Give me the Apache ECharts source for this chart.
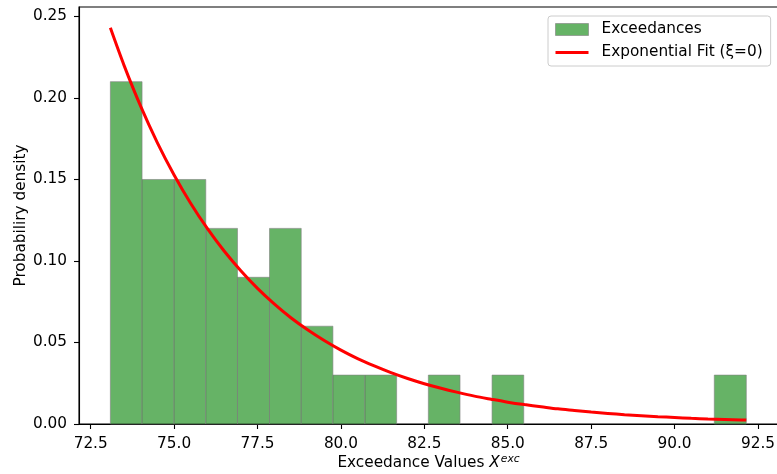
<!DOCTYPE html>
<html>
<head>
<meta charset="utf-8">
<script src="https://cdn.jsdelivr.net/npm/echarts@6/dist/echarts.min.js"></script>
<style>
  html, body { margin: 0; padding: 0; background: #ffffff; }
  #chart { width: 777px; height: 474px; }
</style>
</head>
<body>
<div id="chart"></div>
<script>
// Histogram of exceedances over the threshold (20 equal-width bins), density-normalised
const binEdges = [73.09, 74.04, 75.00, 75.95, 76.90, 77.86, 78.81, 79.76, 80.72, 81.67, 82.62,
                  83.57, 84.53, 85.48, 86.43, 87.38, 88.34, 89.29, 90.24, 91.19, 92.15];
const densities = [0.21, 0.15, 0.15, 0.12, 0.09, 0.12, 0.06, 0.03, 0.03, 0.00,
                   0.03, 0.00, 0.03, 0.00, 0.00, 0.00, 0.00, 0.00, 0.00, 0.03];

// Fitted exponential density (GPD with shape 0), sampled along the data range
const fitX = [73.09, 73.5, 74.0, 74.5, 75.0, 75.5, 76.0, 76.5, 77.0, 77.5, 78.0, 78.5, 79.0, 79.5,
              80.0, 80.5, 81.0, 81.5, 82.0, 82.5, 83.0, 83.5, 84.0, 84.5, 85.0, 85.5, 86.0, 86.5,
              87.0, 87.5, 88.0, 88.5, 89.0, 89.5, 90.0, 90.5, 91.0, 91.5, 92.0, 92.15];
const fitY = [0.2430, 0.2200, 0.1948, 0.1725, 0.1528, 0.1353, 0.1198, 0.1061, 0.0940, 0.0832, 0.0737, 0.0652, 0.0578, 0.0512,
              0.0453, 0.0401, 0.0356, 0.0315, 0.0279, 0.0247, 0.0219, 0.0194, 0.0171, 0.0152, 0.0134, 0.0119, 0.0106, 0.0093,
              0.0083, 0.0073, 0.0065, 0.0057, 0.0051, 0.0045, 0.0040, 0.0035, 0.0031, 0.0028, 0.0025, 0.0024];

const xTicks = [72.5, 75.0, 77.5, 80.0, 82.5, 85.0, 87.5, 90.0, 92.5];
const yTicks = [0.00, 0.05, 0.10, 0.15, 0.20, 0.25];

const FONT = 'DejaVu Sans';
const FS = 15.3;
const barFill = 'rgba(0,128,0,0.6)';
const barEdge = 'rgba(128,128,128,0.6)';

const histData = densities.map((d, i) => [binEdges[i], binEdges[i + 1], d]);
const fitData = fitX.map((x, i) => [x, fitY[i]]);

const chart = echarts.init(document.getElementById('chart'), null, { renderer: 'canvas' });

chart.setOption({
  animation: false,
  backgroundColor: '#ffffff',
  grid: {
    left: 79, right: -1, top: 7, bottom: 50,
    outerBoundsMode: 'none',
    containLabel: false,
    show: true, borderColor: '#000000', borderWidth: 1.1, backgroundColor: 'transparent'
  },
  xAxis: {
    type: 'value',
    min: 72.15, max: 93.1,
    name: '{n|Exceedance Values }{x|X}{s|exc}',
    nameLocation: 'middle',
    nameMoveOverlap: false,
    nameGap: 30,
    nameTextStyle: {
      fontFamily: FONT, fontSize: FS, color: '#000',
      rich: {
        n: { fontFamily: FONT, fontSize: FS, color: '#000', lineHeight: 19 },
        x: { fontFamily: FONT, fontSize: FS, fontStyle: 'italic', color: '#000', lineHeight: 19 },
        s: { fontFamily: FONT, fontSize: 10.7, fontStyle: 'italic', color: '#000', verticalAlign: 'top', lineHeight: 19, padding: [0, 0, 6, 1] }
      }
    },
    axisLine: { show: true, lineStyle: { color: '#000', width: 1.1 } },
    axisTick: { show: true, length: 5, customValues: xTicks, lineStyle: { color: '#000', width: 1.1 } },
    axisLabel: {
      customValues: xTicks,
      formatter: v => v.toFixed(1),
      fontFamily: FONT, fontSize: FS, color: '#000', margin: 13
    },
    splitLine: { show: false }
  },
  yAxis: {
    type: 'value',
    min: 0, max: 0.2558,
    name: 'Probabiliry density',
    nameLocation: 'middle',
    nameMoveOverlap: false,
    nameRotate: 90,
    nameGap: 50,
    nameTextStyle: { fontFamily: FONT, fontSize: FS, color: '#000' },
    axisLine: { show: true, lineStyle: { color: '#000', width: 1.1 } },
    axisTick: { show: true, length: 5, customValues: yTicks, lineStyle: { color: '#000', width: 1.1 } },
    axisLabel: {
      customValues: yTicks,
      formatter: v => v.toFixed(2),
      fontFamily: FONT, fontSize: FS, color: '#000', margin: 12
    },
    splitLine: { show: false }
  },
  legend: {
    orient: 'vertical',
    left: 548, top: 16,
    itemWidth: 33, itemHeight: 12, itemGap: 6,
    padding: [5, 8, 5, 6],
    backgroundColor: 'rgba(255,255,255,0.8)',
    borderColor: '#cccccc', borderWidth: 1, borderRadius: 3,
    textStyle: { fontFamily: FONT, fontSize: FS, color: '#000', lineHeight: 17, padding: [0, 0, 0, 8] },
    data: [
      { name: 'Exceedances', icon: 'rect', itemStyle: { color: barFill, borderColor: barEdge, borderWidth: 1 } },
      { name: 'Exponential Fit (ξ=0)', itemStyle: { opacity: 0 }, lineStyle: { color: '#ff0000', width: 3 } }
    ]
  },
  series: [
    {
      name: 'Exceedances',
      type: 'custom',
      itemStyle: { color: barFill, borderColor: barEdge, borderWidth: 1 },
      encode: { x: [0, 1], y: 2 },
      data: histData,
      renderItem: (params, api) => {
        const h = api.value(2);
        if (!h) return { type: 'group', children: [] };
        const p0 = api.coord([api.value(0), h]);
        const p1 = api.coord([api.value(1), 0]);
        return {
          type: 'rect',
          shape: { x: p0[0], y: p0[1], width: p1[0] - p0[0], height: p1[1] - p0[1] },
          style: { fill: barFill, stroke: barEdge, lineWidth: 1 }
        };
      },
      z: 2
    },
    {
      name: 'Exponential Fit (ξ=0)',
      type: 'line',
      data: fitData,
      smooth: 0.3,
      symbol: 'none',
      lineStyle: { color: '#ff0000', width: 3 },
      itemStyle: { color: '#ff0000' },
      z: 3
    }
  ]
});
</script>
</body>
</html>
